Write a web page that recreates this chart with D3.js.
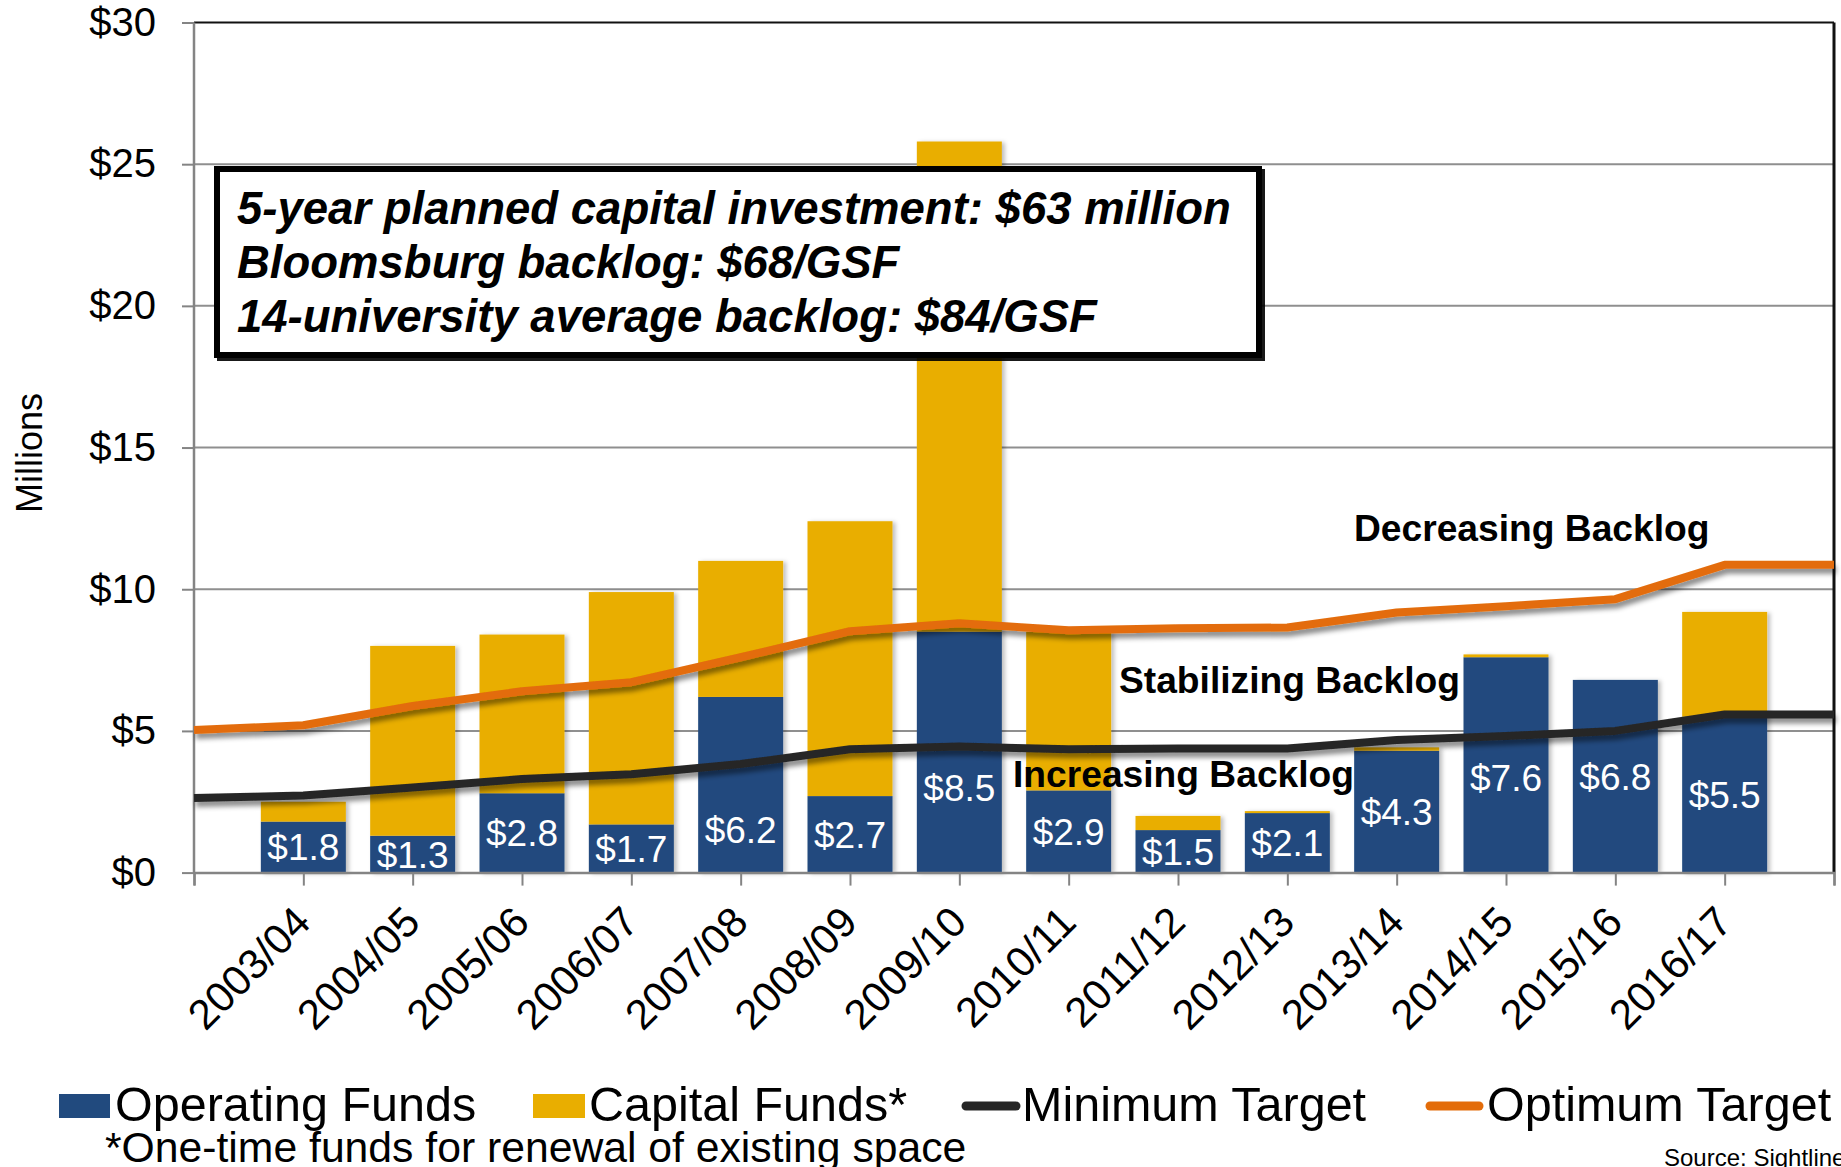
<!DOCTYPE html>
<html>
<head>
<meta charset="utf-8">
<script src="https://cdn.jsdelivr.net/npm/d3@7"></script>
<style>
  html, body { margin: 0; padding: 0; background: #ffffff; }
  svg { display: block; }
  text { font-family: "Liberation Sans", Arial, Helvetica, sans-serif; }
</style>
</head>
<body>
<svg id="chart" width="1841" height="1167"></svg>
<script>
// Fiscal years with funding bars
const years = ["2003/04","2004/05","2005/06","2006/07","2007/08","2008/09","2009/10",
               "2010/11","2011/12","2012/13","2013/14","2014/15","2015/16","2016/17"];
// Target lines run edge to edge: one empty slot before and after the years
const slots = ["lead", ...years, "tail"];

// Funding, $ millions
const operatingFunds = [1.8, 1.3, 2.8, 1.7, 6.2, 2.7, 8.5, 2.9, 1.5, 2.1, 4.3, 7.6, 6.8, 5.5];
const capitalFunds   = [0.7, 6.7, 5.6, 8.2, 4.8, 9.7, 17.3, 5.6, 0.5, 0.07, 0.12, 0.1, 0, 3.7];

// Reinvestment targets, $ millions (one value per slot)
const minimumTarget = [2.63, 2.72, 3.0, 3.3, 3.47, 3.83, 4.35, 4.45, 4.35, 4.38, 4.38, 4.68, 4.82, 5.0, 5.58, 5.58];
const optimumTarget = [5.03, 5.2, 5.88, 6.4, 6.72, 7.6, 8.52, 8.8, 8.55, 8.62, 8.65, 9.18, 9.4, 9.65, 10.86, 10.86];

// Value axis ticks
const yTicks = [0, 5, 10, 15, 20, 25, 30];

// Operating-fund labels placed by hand away from the target lines (label centre, $M)
const labelCenters = { "2007/08": 1.5, "2009/10": 3.0, "2014/15": 3.35 };

const boxLines = [
  "5-year planned capital investment: $63 million",
  "Bloomsburg backlog: $68/GSF",
  "14-university average backlog: $84/GSF"
];

const colors = {
  operating: "#214a7e",
  capital: "#e9ae00",
  minimum: "#262626",
  optimum: "#e36c0a",
  grid: "#8f8f8f",
  axis: "#848484"
};

const svg = d3.select("#chart");

const x = d3.scalePoint().domain(slots).range([194, 1834]);
const y = d3.scaleLinear().domain([0, 30]).range([872.6, 22.5]);
const barWidth = 85;

// Shadows
const defs = svg.append("defs");
defs.append("filter").attr("id", "lineShadow")
  .attr("x", "-5%").attr("y", "-50%").attr("width", "110%").attr("height", "200%")
  .append("feDropShadow")
  .attr("dx", 2).attr("dy", 5).attr("stdDeviation", 2.5)
  .attr("flood-color", "#000").attr("flood-opacity", 0.45);
defs.append("filter").attr("id", "barShadow")
  .attr("x", "-20%").attr("y", "-5%").attr("width", "140%").attr("height", "110%")
  .append("feDropShadow")
  .attr("dx", 3).attr("dy", 1).attr("stdDeviation", 2)
  .attr("flood-color", "#000").attr("flood-opacity", 0.25);
defs.append("filter").attr("id", "boxShadow")
  .append("feDropShadow")
  .attr("dx", 3).attr("dy", 3).attr("stdDeviation", 0.5)
  .attr("flood-color", "#000").attr("flood-opacity", 0.9);

const [x0, x1] = x.range();

// Gridlines
svg.append("g").selectAll("line")
  .data(yTicks.filter(t => t > 0 && t < 30))
  .join("line")
  .attr("x1", x0).attr("x2", x1)
  .attr("y1", d => y(d)).attr("y2", d => y(d))
  .attr("stroke", colors.grid).attr("stroke-width", 2);

// Plot frame: top and right edges
svg.append("line").attr("x1", x0).attr("x2", x1).attr("y1", y(30)).attr("y2", y(30))
  .attr("stroke", "#111").attr("stroke-width", 2);
svg.append("line").attr("x1", x1).attr("x2", x1).attr("y1", y(30)).attr("y2", y(0))
  .attr("stroke", "#111").attr("stroke-width", 3);

// Stacked bars
const table = years.map((yr, i) => ({ year: yr, operating: operatingFunds[i], capital: capitalFunds[i] }));
const stacked = d3.stack().keys(["operating", "capital"])(table);

const barLayer = svg.append("g").attr("filter", "url(#barShadow)");
barLayer.selectAll("g")
  .data(stacked)
  .join("g")
  .attr("fill", d => colors[d.key])
  .selectAll("rect")
  .data(d => d.filter(s => s[1] - s[0] > 0))
  .join("rect")
  .attr("x", d => x(d.data.year) - barWidth / 2)
  .attr("width", barWidth)
  .attr("y", d => y(d[1]))
  .attr("height", d => y(d[0]) - y(d[1]));

// Axes
const yAxis = d3.axisLeft(y).tickValues(yTicks).tickFormat(d => "$" + d).tickSize(12).tickPadding(26);
const gy = svg.append("g").attr("transform", `translate(${x0},0)`).call(yAxis);
gy.select(".domain").remove();
gy.selectAll(".tick line").attr("stroke", colors.axis).attr("stroke-width", 2);
gy.selectAll(".tick text").attr("font-size", 40).attr("fill", "#000")
  .attr("font-family", "Liberation Sans, Arial, sans-serif");
svg.append("line").attr("x1", x0).attr("x2", x0).attr("y1", y(30)).attr("y2", y(0))
  .attr("stroke", colors.axis).attr("stroke-width", 2.5);

const xAxis = d3.axisBottom(x).tickSize(13).tickFormat(d => years.includes(d) ? d : "");
const gx = svg.append("g").attr("transform", `translate(0,${y(0)})`).call(xAxis);
gx.select(".domain").attr("stroke", colors.axis).attr("stroke-width", 2.5);
gx.selectAll(".tick line").attr("stroke", colors.axis).attr("stroke-width", 2);
gx.selectAll(".tick text")
  .attr("font-size", 42).attr("fill", "#000")
  .attr("font-family", "Liberation Sans, Arial, sans-serif")
  .attr("text-anchor", "end")
  .attr("x", 0).attr("y", 0).attr("dy", 0)
  .attr("transform", "translate(9,52) rotate(-45)");

// Target lines
const line = d3.line().x((d, i) => x(slots[i])).y(d => y(d));
const lineLayer = svg.append("g").attr("filter", "url(#lineShadow)");
lineLayer.append("path").datum(minimumTarget).attr("d", line)
  .attr("fill", "none").attr("stroke", colors.minimum).attr("stroke-width", 8)
  .attr("stroke-linejoin", "round");
lineLayer.append("path").datum(optimumTarget).attr("d", line)
  .attr("fill", "none").attr("stroke", colors.optimum).attr("stroke-width", 8)
  .attr("stroke-linejoin", "round");

// Operating-fund value labels
svg.append("g").selectAll("text")
  .data(table)
  .join("text")
  .attr("x", d => x(d.year))
  .attr("y", d => y(labelCenters[d.year] !== undefined ? labelCenters[d.year] : d.operating / 2))
  .attr("dy", "0.36em")
  .attr("text-anchor", "middle")
  .attr("font-size", 37)
  .attr("fill", "#fff")
  .text(d => "$" + d.operating.toFixed(1));

// Backlog zone annotations
const zones = [
  { text: "Decreasing Backlog", x: 1354, y: 541 },
  { text: "Stabilizing Backlog", x: 1119, y: 693 },
  { text: "Increasing Backlog", x: 1013, y: 787 }
];
svg.append("g").selectAll("text")
  .data(zones).join("text")
  .attr("x", d => d.x).attr("y", d => d.y)
  .attr("font-size", 37.2).attr("font-weight", "bold").attr("fill", "#000")
  .text(d => d.text);

// Summary box
svg.append("rect")
  .attr("x", 217).attr("y", 169).attr("width", 1042).attr("height", 186)
  .attr("fill", "#fff").attr("stroke", "#000").attr("stroke-width", 6)
  .attr("filter", "url(#boxShadow)");
svg.append("g").selectAll("text")
  .data(boxLines).join("text")
  .attr("x", 237).attr("y", (d, i) => 224 + i * 54)
  .attr("font-size", 45.5).attr("font-weight", "bold").attr("font-style", "italic")
  .attr("fill", "#000")
  .text(d => d);

// Value axis title
svg.append("text")
  .attr("transform", "translate(42,513) rotate(-90)")
  .attr("font-size", 36).attr("fill", "#000")
  .text("Millions");

// Legend
const legendY = 1106;
const legend = svg.append("g").attr("font-size", 48.5);
legend.append("rect").attr("x", 59).attr("y", legendY - 12).attr("width", 51).attr("height", 24).attr("fill", colors.operating);
legend.append("text").attr("x", 115).attr("y", legendY + 15).text("Operating Funds");
legend.append("rect").attr("x", 533).attr("y", legendY - 12).attr("width", 52).attr("height", 24).attr("fill", colors.capital);
legend.append("text").attr("x", 589).attr("y", legendY + 15).text("Capital Funds*");
legend.append("line").attr("x1", 966).attr("x2", 1016).attr("y1", legendY).attr("y2", legendY)
  .attr("stroke", colors.minimum).attr("stroke-width", 9).attr("stroke-linecap", "round");
legend.append("text").attr("x", 1022).attr("y", legendY + 15).text("Minimum Target");
legend.append("line").attr("x1", 1430).attr("x2", 1479).attr("y1", legendY).attr("y2", legendY)
  .attr("stroke", colors.optimum).attr("stroke-width", 9).attr("stroke-linecap", "round");
legend.append("text").attr("x", 1487).attr("y", legendY + 15).text("Optimum Target");

svg.append("text").attr("x", 105).attr("y", 1162).attr("font-size", 42.7)
  .text("*One-time funds for renewal of existing space");

svg.append("text").attr("x", 1664).attr("y", 1166).attr("font-size", 24)
  .attr("font-family", "Lato, Open Sans, sans-serif")
  .text("Source: Sightlines");
</script>
</body>
</html>
